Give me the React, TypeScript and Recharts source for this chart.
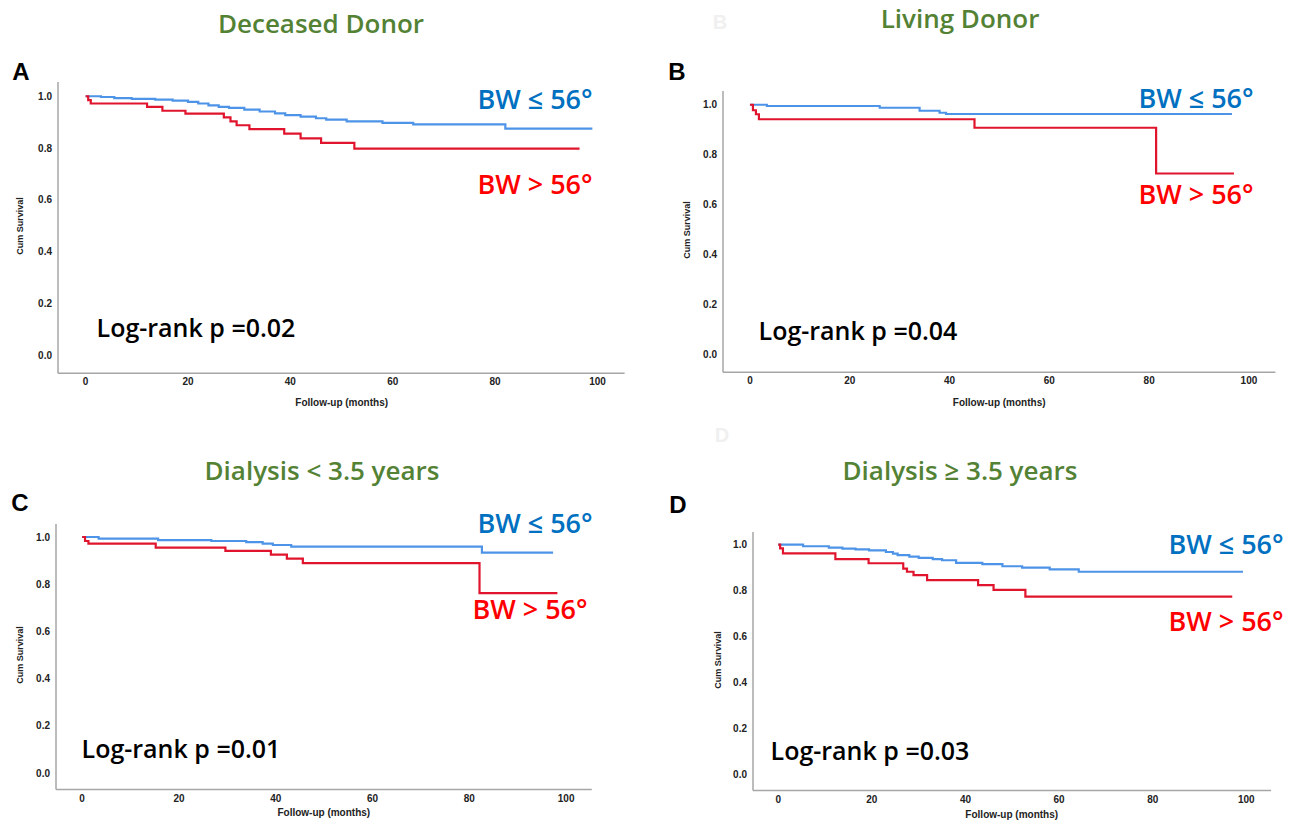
import React from "react";
import { LineChart, Line, XAxis, YAxis } from "recharts";

const X_TICKS = [0, 20, 40, 60, 80, 100];
const Y_TICKS = [0, 0.2, 0.4, 0.6, 0.8, 1.0];
const X_DOMAIN = [-5.4, 105.3];
const Y_DOMAIN = [-0.07, 1.055];

// Kaplan-Meier steps: [month, cum survival]
const deceasedLow = [
  [0, 1], [3, 0.997], [5.6, 0.993], [9, 0.99], [13.6, 0.987], [17, 0.983],
  [20, 0.978], [22, 0.972], [24, 0.965], [26, 0.959], [28, 0.955], [31, 0.948],
  [34, 0.941], [37, 0.934], [39, 0.927], [42, 0.921], [45, 0.915], [47, 0.91],
  [51, 0.903], [58, 0.897], [64, 0.891], [82, 0.875], [99, 0.875],
];
const deceasedHigh = [
  [0, 1], [0.5, 0.985], [1, 0.972], [12, 0.959], [15, 0.944], [19.5, 0.933],
  [27, 0.918], [28.3, 0.903], [29.5, 0.888], [32, 0.873], [38.8, 0.856],
  [42, 0.837], [46, 0.82], [52.5, 0.798], [96.5, 0.798],
];

const livingLow = [
  [0, 1], [3.4, 0.995], [26, 0.988], [34, 0.976], [38, 0.968], [39.3, 0.963],
  [96.6, 0.963],
];
const livingHigh = [
  [0, 1], [0.6, 0.978], [1.2, 0.962], [1.8, 0.942], [45, 0.908], [81.4, 0.725],
  [97, 0.725],
];

const shortLow = [
  [0, 1], [3.4, 0.993], [15.7, 0.987], [26.7, 0.983], [33.9, 0.978],
  [37.3, 0.972], [39.4, 0.966], [43.2, 0.959], [82.6, 0.934], [97.3, 0.934],
];
const shortHigh = [
  [0, 1], [0.6, 0.983], [1.3, 0.972], [15.2, 0.955], [29.6, 0.941], [39, 0.925],
  [42.3, 0.908], [45.6, 0.889], [82.1, 0.762], [98.2, 0.762],
];

const longLow = [
  [0, 1], [5.3, 0.993], [10.8, 0.987], [13.7, 0.983], [16.5, 0.979],
  [19.4, 0.975], [23, 0.968], [24.5, 0.961], [25.5, 0.954], [28, 0.948],
  [30, 0.942], [33, 0.937], [35, 0.932], [38, 0.921], [43.6, 0.915],
  [47.9, 0.906], [52.1, 0.9], [58, 0.892], [64.2, 0.882], [99.3, 0.882],
];
const longHigh = [
  [0, 1], [0.4, 0.984], [1, 0.962], [12.2, 0.937], [19.3, 0.919], [26.7, 0.896],
  [27.5, 0.882], [28.9, 0.867], [31.8, 0.846], [42.7, 0.824], [46, 0.803],
  [52.8, 0.774], [97, 0.774],
];

const TITLES = ["Deceased Donor", "Living Donor", "Dialysis < 3.5 years", "Dialysis \u2265 3.5 years"];
const LETTERS = ["A", "B", "C", "D"];
const P_VALUES = ["0.02", "0.04", "0.01", "0.03"];

const toRows = (pts: number[][]) => pts.map(([t, s]) => ({ t, s }));

const TXT = "'Open Sans', sans-serif";
const AXIS_FONT = "'Liberation Sans', Arial, sans-serif";
const GREEN = "#548235";
const BLUE_TXT = "#0070c0";
const RED_TXT = "#ff0000";
const BLUE_LINE = "#4d94e8";
const RED_LINE = "#e0142d";

const panels = [
  {
    low: deceasedLow, high: deceasedHigh,
    plot: { left: 58.4, right: 625, top: 82.3, bottom: 373.6 },
    title: [321, 23], letter: [21, 72], pval: [196, 327],
    blue: [535, 98], red: [535, 183], yLab: [20, 226], xLab: 403,
  },
  {
    low: livingLow, high: livingHigh,
    plot: { left: 723, right: 1275.4, top: 90.8, bottom: 372 },
    title: [960, 18], letter: [677, 72], pval: [858, 330],
    blue: [1196, 97], red: [1196, 193], yLab: [687, 230], xLab: 403,
  },
  {
    low: shortLow, high: shortHigh,
    plot: { left: 55.9, right: 591.7, top: 523.5, bottom: 789 },
    title: [322, 470], letter: [20, 503], pval: [181, 748],
    blue: [535, 522], red: [530, 608], yLab: [20, 655], xLab: 813,
  },
  {
    low: longLow, high: longHigh,
    plot: { left: 752.7, right: 1270.8, top: 532.4, bottom: 791 },
    title: [960, 470], letter: [678, 505], pval: [870, 750],
    blue: [1226, 543], red: [1226, 620], yLab: [718, 660], xLab: 815,
  },
];

function Label({ x, y, children, style }: any) {
  return (
    <div
      style={{
        position: "absolute",
        left: x,
        top: y,
        transform: "translate(-50%, -50%)",
        whiteSpace: "nowrap",
        lineHeight: 1,
        ...style,
      }}
    >
      {children}
    </div>
  );
}

function Panel({ cfg, i }: any) {
  const { plot } = cfg;
  const mL = 60, mT = 10, mR = 10, mB = 50;
  const w = plot.right - plot.left + mL + mR;
  const h = plot.bottom - plot.top + mT + mB;
  const axisTick = { fill: "#222", fontSize: 10, fontWeight: 700, fontFamily: AXIS_FONT };
  return (
    <>
      <div style={{ position: "absolute", left: plot.left - mL, top: plot.top - mT }}>
        <LineChart width={w} height={h} margin={{ top: mT, right: mR, left: 0, bottom: 0 }}>
          <XAxis
            type="number"
            dataKey="t"
            domain={X_DOMAIN}
            ticks={X_TICKS}
            allowDataOverflow
            height={mB}
            tickLine={false}
            tickSize={0}
            tickMargin={5}
            tick={axisTick}
            axisLine={{ stroke: "#a6a6a6", strokeWidth: 1.5 }}
          />
          <YAxis
            type="number"
            dataKey="s"
            domain={Y_DOMAIN}
            ticks={Y_TICKS}
            allowDataOverflow
            width={mL}
            tickLine={false}
            tickSize={0}
            tickMargin={6}
            tick={axisTick}
            tickFormatter={(v: number) => v.toFixed(1)}
            axisLine={{ stroke: "#a6a6a6", strokeWidth: 1.5 }}
          />
          <Line
            data={toRows(cfg.low)}
            dataKey="s"
            type="stepAfter"
            stroke={BLUE_LINE}
            strokeWidth={2.2}
            dot={false}
            isAnimationActive={false}
          />
          <Line
            data={toRows(cfg.high)}
            dataKey="s"
            type="stepAfter"
            stroke={RED_LINE}
            strokeWidth={2.2}
            dot={false}
            isAnimationActive={false}
          />
        </LineChart>
      </div>
      <Label x={cfg.title[0]} y={cfg.title[1]} style={{ fontFamily: TXT, fontWeight: 600, fontSize: 26, color: GREEN }}>
        {TITLES[i]}
      </Label>
      <Label x={cfg.letter[0]} y={cfg.letter[1]} style={{ fontFamily: AXIS_FONT, fontWeight: 700, fontSize: 24, color: "#000" }}>
        {LETTERS[i]}
      </Label>
      <Label x={cfg.blue[0]} y={cfg.blue[1]} style={{ fontFamily: TXT, fontWeight: 600, fontSize: 27, color: BLUE_TXT }}>
        BW ≤ 56°
      </Label>
      <Label x={cfg.red[0]} y={cfg.red[1]} style={{ fontFamily: TXT, fontWeight: 600, fontSize: 27, color: RED_TXT }}>
        BW &gt; 56°
      </Label>
      <Label x={cfg.pval[0]} y={cfg.pval[1]} style={{ fontFamily: TXT, fontWeight: 600, fontSize: 25, color: "#000" }}>
        Log-rank p ={P_VALUES[i]}
      </Label>
      <Label
        x={cfg.yLab[0]}
        y={cfg.yLab[1]}
        style={{
          fontFamily: AXIS_FONT, fontWeight: 700, fontSize: 9, color: "#222",
          transform: "translate(-50%, -50%) rotate(-90deg)",
        }}
      >
        Cum Survival
      </Label>
      <Label
        x={(plot.left + plot.right) / 2}
        y={cfg.xLab}
        style={{ fontFamily: AXIS_FONT, fontWeight: 700, fontSize: 10, color: "#222" }}
      >
        Follow-up (months)
      </Label>
    </>
  );
}

export default function App() {
  return (
    <div
      style={{
        position: "absolute",
        left: 0,
        top: 0,
        width: 1293,
        height: 821,
        background: "#fff",
        overflow: "hidden",
      }}
    >
      <Label x={720} y={22} style={{ fontFamily: AXIS_FONT, fontWeight: 700, fontSize: 20, color: "#f0f0f0" }}>
        B
      </Label>
      <Label x={722} y={435} style={{ fontFamily: AXIS_FONT, fontWeight: 700, fontSize: 20, color: "#f0f0f0" }}>
        D
      </Label>
      {panels.map((cfg, i) => (
        <Panel key={i} cfg={cfg} i={i} />
      ))}
    </div>
  );
}
